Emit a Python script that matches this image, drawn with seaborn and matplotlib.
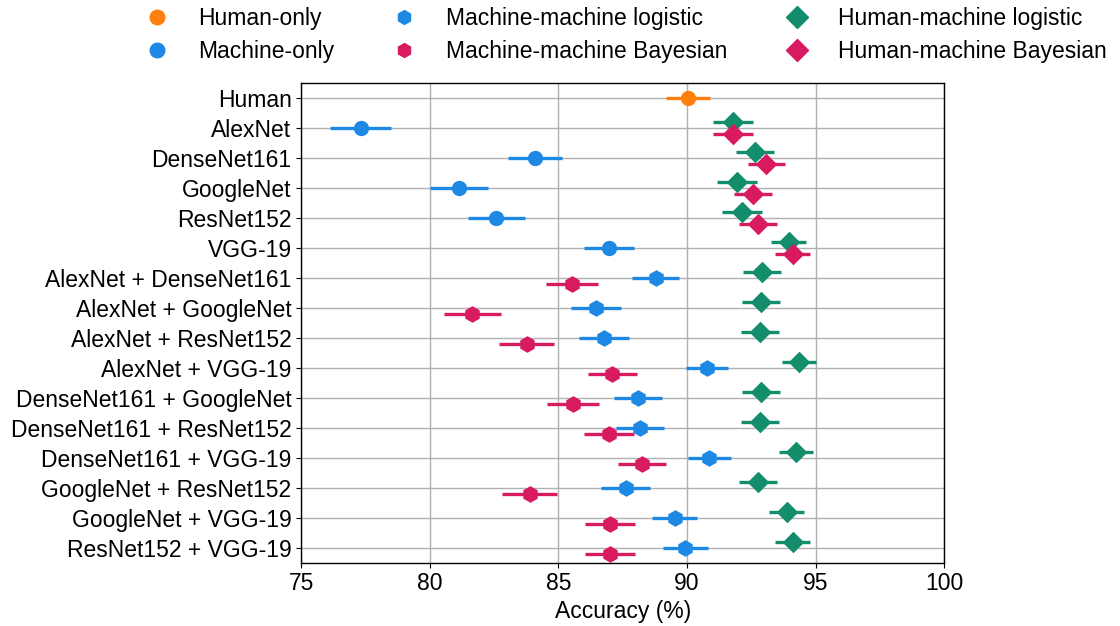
import numpy as np
import pandas as pd
import matplotlib
matplotlib.use('Agg')
import matplotlib.pyplot as plt
from matplotlib.lines import Line2D
import seaborn as sns

# ------------------------------------------------------------
#  Data (accuracy % and half-width of the interval)
# ------------------------------------------------------------
models = ['Human', 'AlexNet', 'DenseNet161', 'GoogleNet', 'ResNet152', 'VGG-19',
          'AlexNet + DenseNet161', 'AlexNet + GoogleNet', 'AlexNet + ResNet152',
          'AlexNet + VGG-19', 'DenseNet161 + GoogleNet', 'DenseNet161 + ResNet152',
          'DenseNet161 + VGG-19', 'GoogleNet + ResNet152', 'GoogleNet + VGG-19',
          'ResNet152 + VGG-19']
singles = models[1:6]
pairs = models[6:]

human_acc = [90.04]
human_err = [0.87]

machine_acc = [77.31, 84.08, 81.12, 82.59, 86.96]
machine_err = [1.18, 1.05, 1.13, 1.10, 0.97]

mm_log_acc = [88.78, 86.45, 86.78, 90.78, 88.11, 88.18, 90.87, 87.61, 89.52, 89.93]
mm_log_err = [0.90, 0.98, 0.98, 0.83, 0.93, 0.93, 0.83, 0.95, 0.88, 0.87]

mm_bay_acc = [85.52, 81.65, 83.76, 87.10, 85.57, 86.95, 88.25, 83.88, 87.00, 87.00]
mm_bay_err = [1.02, 1.10, 1.06, 0.96, 1.01, 0.97, 0.93, 1.06, 0.97, 0.97]

hm_log_acc = [91.79, 92.65, 91.96, 92.13, 93.95,
              92.92, 92.87, 92.83, 94.34, 92.88, 92.85, 94.24, 92.76, 93.88, 94.11]
hm_log_err = [0.78, 0.74, 0.78, 0.77, 0.68,
              0.73, 0.73, 0.74, 0.66, 0.74, 0.74, 0.67, 0.75, 0.68, 0.68]

hm_bay_acc = [91.79, 93.09, 92.57, 92.75, 94.11]
hm_bay_err = [0.78, 0.72, 0.75, 0.74, 0.68]

series_names = ['Human-only', 'Machine-only', 'Machine-machine logistic',
                'Machine-machine Bayesian', 'Human-machine logistic',
                'Human-machine Bayesian']
couleurs = ['#FF7F0E', '#1E88E5', '#1E88E5', '#D81B60', '#138D6C', '#D81B60']
marqueurs = ['o', 'o', 'h', 'h', 'D', 'D']
decalage = [0.0, 0.0, 0.0, 0.2, -0.2, 0.2]
tailles = [11, 11, 12, 12, 11, 11]
tailles_legende = [10.5, 10.5, 10, 10, 11, 11]

frames = [
    pd.DataFrame({'model': ['Human'], 'acc': human_acc, 'err': human_err, 'series': series_names[0]}),
    pd.DataFrame({'model': singles, 'acc': machine_acc, 'err': machine_err, 'series': series_names[1]}),
    pd.DataFrame({'model': pairs, 'acc': mm_log_acc, 'err': mm_log_err, 'series': series_names[2]}),
    pd.DataFrame({'model': pairs, 'acc': mm_bay_acc, 'err': mm_bay_err, 'series': series_names[3]}),
    pd.DataFrame({'model': models[1:], 'acc': hm_log_acc, 'err': hm_log_err, 'series': series_names[4]}),
    pd.DataFrame({'model': singles, 'acc': hm_bay_acc, 'err': hm_bay_err, 'series': series_names[5]}),
]
df = pd.concat(frames, ignore_index=True)
df['row'] = df['model'].map({m: i for i, m in enumerate(models)})
df['y'] = df['row'] + df['series'].map(dict(zip(series_names, decalage)))

# ------------------------------------------------------------
#  Figure
# ------------------------------------------------------------
sns.set_theme(style='ticks')
plt.rcParams['font.family'] = ['Liberation Sans', 'DejaVu Sans']
plt.rcParams['text.color'] = 'black'
plt.rcParams['axes.labelcolor'] = 'black'
plt.rcParams['xtick.color'] = 'black'
plt.rcParams['ytick.color'] = 'black'
FS = 16.5

fig, ax = plt.subplots(figsize=(11.2, 6.26), dpi=100)
fig.subplots_adjust(left=0.269, right=0.843, top=0.867, bottom=0.101)

for nom, col, mk, ms in zip(series_names, couleurs, marqueurs, tailles):
    sub = df[df['series'] == nom]
    ax.hlines(sub['y'], sub['acc'] - sub['err'], sub['acc'] + sub['err'],
              colors=col, linewidth=2.4, zorder=3)
    sns.scatterplot(data=sub, x='acc', y='y', color=col, marker=mk,
                    s=ms ** 2, linewidth=0, ax=ax, zorder=4, legend=False)

ax.set_xlim(75, 100)
ax.set_ylim(len(models) - 0.5, -0.5)
ax.set_yticks(range(len(models)))
ax.set_yticklabels(models, fontsize=FS)
ax.set_xticks([75, 80, 85, 90, 95, 100])
ax.tick_params(axis='both', labelsize=FS, length=3.5, width=0.8, pad=3.5)
ax.set_xlabel('Accuracy (%)', fontsize=FS, labelpad=3)
ax.set_ylabel('')
ax.grid(True, color='#b0b0b0', linewidth=1)
ax.set_axisbelow(True)
for sp in ax.spines.values():
    sp.set_color('black')
    sp.set_linewidth(1)

handles = [Line2D([], [], linestyle='none', marker=mk, color=col, markersize=ms)
           for col, mk, ms in zip(couleurs, marqueurs, tailles_legende)]
fig.legend(handles, series_names, loc='upper center', bbox_to_anchor=(0.554, 1.021),
           ncol=3, frameon=False, fontsize=FS, handletextpad=0.8,
           columnspacing=2.05, labelspacing=0.4)

plt.savefig('out.png', dpi=100)
